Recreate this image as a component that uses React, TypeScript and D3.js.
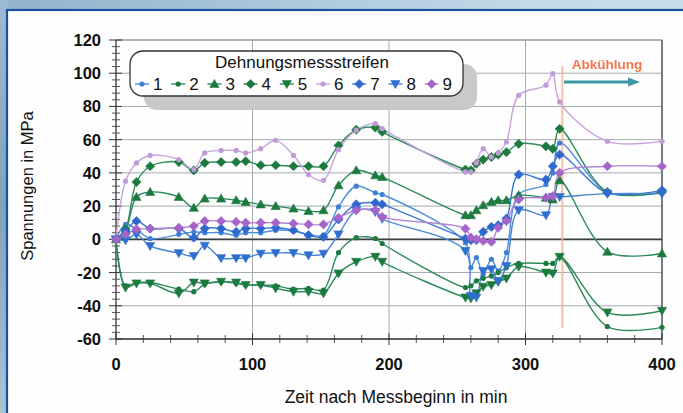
import React from 'react';
import * as d3 from 'd3';

// measurement times (min)
const times = [0, 7, 15, 25, 46, 57, 65, 77, 88, 95, 106, 117, 130, 141, 152, 163, 176, 190, 195, 256, 260, 264, 269, 275, 280, 286, 295, 315, 320, 325, 360, 400];

// stresses in MPa per strain gauge
const s1 = [0, 9, 6, 0.5, 3, 4.5, 4, 4, 2.5, 4, 4, 5.5, 5, 3, 2.5, 19.5, 32, 28, 27, -2, -17, -11, -21, -12, -19, -8, 27, 33, 40, 58, 28.5, 28];
const s2 = [0, -28, -26, -26, -30, -31.5, -27, -25.5, -26.5, -27.5, -27.5, -28, -30, -29.5, -30.5, -8, 1, 0.5, -2.5, -29, -28, -25, -23.5, -22, -20, -17, -14.5, -14.5, -14.5, -10.5, -52.5, -53];
const s3 = [0, 5.5, 25.5, 28.5, 25.5, 19, 24.5, 24.5, 23.5, 22.5, 21, 20, 18.5, 17, 17.5, 32.5, 41.5, 38.5, 37.5, 14.5, 14.5, 17.5, 20.5, 22.5, 23.5, 23.5, 26.5, 25, 24, 35.5, -7.5, -8.5];
const s4 = [0, 6, 34.5, 44, 46.5, 41.5, 46, 46.5, 46.5, 47, 44.6, 44.6, 44, 44, 44, 56.5, 66, 67.3, 64.7, 42, 41.6, 45.5, 48, 49.5, 51, 52.5, 57.5, 56, 54.5, 66.5, 28.5, 28.5];
const s5 = [0, -29, -26.5, -26.5, -32.5, -26, -26.5, -25.5, -26, -27.5, -27.5, -29.5, -31.5, -31.5, -32.5, -20.5, -13.5, -10.5, -13.5, -35, -35.5, -32.5, -28.5, -27.5, -25.5, -23.5, -16.5, -20, -20.5, -10.5, -44, -43];
const s6 = [0, 35, 46, 50.5, 48, 42, 52, 53.5, 53.5, 52, 54.6, 59.6, 50.6, 39, 35.5, 54, 65.7, 69.7, 66.7, 40.6, 40.6, 46, 54.6, 49.6, 52, 58.6, 86.7, 92.8, 99.8, 82.7, 59, 59];
const s7 = [0, 5, 11, 6.5, 6.5, 1, 6.5, 6.5, 4.5, 6.5, 6.5, 7, 5.5, 2.5, 1.5, 12, 21, 22, 21, 0.5, -0.5, -0.5, 4.5, 7.5, 8.5, 12.5, 39, 36, 44, 51, 28, 29.5];
const s8 = [0, -0.5, 3, -4, -8.3, -10, -3.8, -11.3, -11.3, -11.3, -8.6, -8.2, -8.2, -9.6, -8.6, 3, 17.5, 16.5, 12.4, -7, -34, -35, -19, -18, -25, -16, 17.5, 14.5, 25.5, 25.5, 27.5, 27.5];
const s9 = [0, 3, 6, 6.5, 7, 8, 11, 11, 10.5, 10, 10, 10, 9.5, 9, 9, 13, 17.5, 17.5, 13.5, 6.4, 1, 0, -1, -1.5, 7, 11, 24, 25, 26, 40, 44, 44];

const seriesNames = ['1', '2', '3', '4', '5', '6', '7', '8', '9'];
const yTicks = [-60, -40, -20, 0, 20, 40, 60, 80, 100, 120];
const xTicks = [0, 100, 200, 300, 400];
const legendTitle = 'Dehnungsmessstreifen';
const xTitle = 'Zeit nach Messbeginn in min';
const yTitle = 'Spannungen in MPa';
const noteText = 'Abkühlung';
const coolingStart = 327;

type Marker = 'dot' | 'up' | 'diamond' | 'down';
const BLUE = '#3f7fd6';
const GREEN_L = '#2b8a5a';
const GREEN_M = '#1c7a3e';
const series: { name: string; values: number[]; line: string; fill: string; marker: Marker }[] = [
  { name: seriesNames[0], values: s1, line: '#4d8ede', fill: '#3f7fd6', marker: 'dot' },
  { name: seriesNames[1], values: s2, line: GREEN_L, fill: GREEN_M, marker: 'dot' },
  { name: seriesNames[2], values: s3, line: GREEN_L, fill: GREEN_M, marker: 'up' },
  { name: seriesNames[3], values: s4, line: GREEN_L, fill: GREEN_M, marker: 'diamond' },
  { name: seriesNames[4], values: s5, line: GREEN_L, fill: GREEN_M, marker: 'down' },
  { name: seriesNames[5], values: s6, line: '#c9a3dd', fill: '#c29ad8', marker: 'dot' },
  { name: seriesNames[6], values: s7, line: '#3a78d2', fill: '#2d68cc', marker: 'diamond' },
  { name: seriesNames[7], values: s8, line: '#4584d8', fill: '#2f6fd0', marker: 'down' },
  { name: seriesNames[8], values: s9, line: '#b387d2', fill: '#a664c8', marker: 'diamond' },
];

function markerPath(kind: Marker): string {
  const r = 4.6;
  if (kind === 'diamond') return `M0,${-r}L${r},0L0,${r}L${-r},0Z`;
  if (kind === 'up') return `M0,${-r}L${r},${r * 0.75}L${-r},${r * 0.75}Z`;
  if (kind === 'down') return `M0,${r}L${r},${-r * 0.75}L${-r},${-r * 0.75}Z`;
  return '';
}

function MarkerShape({ kind, x, y, color }: { kind: Marker; x: number; y: number; color: string }) {
  if (kind === 'dot') return <circle cx={x} cy={y} r={2.6} fill={color} />;
  return <path d={markerPath(kind)} transform={`translate(${x},${y})`} fill={color} stroke={color} strokeWidth={0.6} />;
}

export default function App() {
  const W = 683, H = 413;
  const x = d3.scaleLinear().domain([0, 400]).range([116, 662]);
  const y = d3.scaleLinear().domain([-60, 120]).range([339, 40]);
  const line = d3
    .line<[number, number]>()
    .x((d) => x(d[0]))
    .y((d) => y(d[1]))
    .curve(d3.curveCatmullRom.alpha(0.5));

  const minorY = d3.range(-60, 121, 4).filter((v) => v % 20 !== 0);
  const minorX = d3.range(0, 401, 20).filter((v) => v % 100 !== 0);
  const font = 'Liberation Sans, Arial, sans-serif';

  return (
    <svg width={W} height={H} style={{ position: 'absolute', left: 0, top: 0 }} fontFamily={font}>
      <defs>
        <linearGradient id="bg" x1="0" y1="0" x2="1" y2="1">
          <stop offset="0" stopColor="#8fb3cc" />
          <stop offset="0.4" stopColor="#c4dbe8" />
          <stop offset="1" stopColor="#d9e8f0" />
        </linearGradient>
        <linearGradient id="bgl" x1="0" y1="0" x2="0" y2="1">
          <stop offset="0" stopColor="#9bbcd2" />
          <stop offset="0.5" stopColor="#7fa3bd" />
          <stop offset="1" stopColor="#a9c3d3" />
        </linearGradient>
        <filter id="soft" x="-10%" y="-30%" width="120%" height="160%">
          <feGaussianBlur stdDeviation="0.5" />
        </filter>
      </defs>
      <rect x={0} y={0} width={W} height={H} fill="url(#bg)" />
      <rect x={0} y={0} width={8} height={H} fill="url(#bgl)" />
      {/* panel */}
      <rect x={7} y={10} width={W} height={H} fill="#fefefe" stroke="#1d4f9f" strokeWidth={2.2} />

      {/* grid */}
      {yTicks.map((v) => (
        <line key={'gy' + v} x1={x(0)} x2={x(400)} y1={y(v)} y2={y(v)} stroke="#a2abb0" strokeWidth={1} />
      ))}
      {xTicks.slice(1, 4).map((v) => (
        <line key={'gx' + v} x1={x(v)} x2={x(v)} y1={y(120)} y2={y(-60)} stroke="#a2abb0" strokeWidth={1} />
      ))}
      <line x1={x(400)} x2={x(400)} y1={y(120)} y2={y(-60)} stroke="#4e5f66" strokeWidth={1.6} />
      <line x1={x(0)} x2={x(400)} y1={y(120)} y2={y(120)} stroke="#8a9499" strokeWidth={1} />
      <line x1={x(0)} x2={x(400)} y1={y(0)} y2={y(0)} stroke="#3a3f42" strokeWidth={1.6} />

      {/* axes */}
      <line x1={x(0)} x2={x(0)} y1={y(120)} y2={y(-60)} stroke="#333" strokeWidth={1.3} />
      <line x1={x(0)} x2={x(400)} y1={y(-60)} y2={y(-60)} stroke="#2f3a40" strokeWidth={1.6} />
      {yTicks.map((v) => (
        <line key={'ty' + v} x1={x(0) - 7} x2={x(0) + 6} y1={y(v)} y2={y(v)} stroke="#333" strokeWidth={1} />
      ))}
      {minorY.map((v) => (
        <line key={'my' + v} x1={x(0) - 4} x2={x(0) + 4} y1={y(v)} y2={y(v)} stroke="#444" strokeWidth={0.9} />
      ))}
      {xTicks.map((v) => (
        <line key={'tx' + v} x1={x(v)} x2={x(v)} y1={y(-60) - 6} y2={y(-60) + 6} stroke="#333" strokeWidth={1} />
      ))}
      {minorX.map((v) => (
        <line key={'mx' + v} x1={x(v)} x2={x(v)} y1={y(-60) - 4} y2={y(-60) + 4} stroke="#444" strokeWidth={0.9} />
      ))}

      {/* tick labels */}
      {yTicks.map((v) => (
        <text key={'ly' + v} x={101} y={y(v) + 6} textAnchor="end" fontSize={16.5} fontWeight="bold" fill="#111">
          {v}
        </text>
      ))}
      {xTicks.map((v) => (
        <text key={'lx' + v} x={x(v)} y={370} textAnchor="middle" fontSize={16.5} fontWeight="bold" fill="#111">
          {v}
        </text>
      ))}
      <text x={396} y={403} textAnchor="middle" fontSize={17.5} fill="#111">
        {xTitle}
      </text>
      <text transform="translate(33,186) rotate(-90)" textAnchor="middle" fontSize={16.5} fill="#111">
        {yTitle}
      </text>

      {/* cooling marker */}
      <line x1={x(coolingStart)} x2={x(coolingStart)} y1={66} y2={328} stroke="#f6b596" strokeWidth={2} opacity={0.85} />

      {/* series */}
      {series.map((s) => {
        const pts = times.map((t, i) => [t, s.values[i]] as [number, number]);
        return (
          <g key={'s' + s.name}>
            <path d={line(pts) || ''} fill="none" stroke={s.line} strokeWidth={1.4} />
          </g>
        );
      })}
      {series.map((s) => (
        <g key={'m' + s.name}>
          {times.map((t, i) => (
            <MarkerShape key={i} kind={s.marker} x={x(t)} y={y(s.values[i])} color={s.fill} />
          ))}
        </g>
      ))}

      {/* annotation */}
      <text x={607} y={69} textAnchor="middle" fontSize={13.5} fontWeight="bold" fill="#f4764f" filter="url(#soft)">
        {noteText}
      </text>
      <line x1={564} x2={630} y1={82} y2={82} stroke="#3d97a4" strokeWidth={3} />
      <path d="M628,77.5L640,82L628,86.5Z" fill="#3d97a4" />

      {/* legend */}
      <rect x={144} y={64} width={333} height={46} rx={13} fill="#c9c9c9" />
      <rect x={130} y={51} width={333} height={45} rx={13} fill="#ffffff" stroke="#333" strokeWidth={1.3} />
      <text x={302} y={68} textAnchor="middle" fontSize={17} fill="#111">
        {legendTitle}
      </text>
      {series.map((s, i) => {
        const tx = 153 + i * 36.2;
        const cy = 84;
        return (
          <g key={'lg' + s.name}>
            <line x1={tx - 18} x2={tx - 4} y1={cy} y2={cy} stroke={s.line} strokeWidth={1.4} />
            <MarkerShape kind={s.marker} x={tx - 11} y={cy} color={s.fill} />
            <text x={tx} y={cy + 6} fontSize={17} fill="#111">
              {s.name}
            </text>
          </g>
        );
      })}
    </svg>
  );
}
